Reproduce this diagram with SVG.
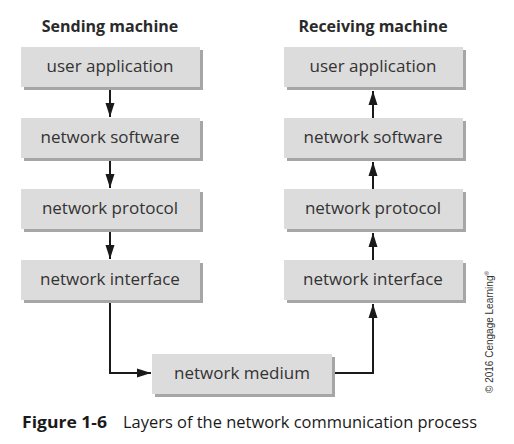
<svg xmlns="http://www.w3.org/2000/svg" width="514" height="444" viewBox="0 0 514 444">
<style>
.shadow{fill:#a6a6a6}
.box{fill:#dcdcdc}
.lbl{font-family:"Open Sans","Liberation Sans",sans-serif;font-size:17px;fill:#333;text-anchor:middle}
.hdr{font-family:"Open Sans","Liberation Sans",sans-serif;font-size:16px;font-weight:bold;fill:#2a2a2a;text-anchor:middle}
.conn{stroke:#1a1a1a;stroke-width:2;fill:none}
</style>
<defs>
<marker id="ahl" markerWidth="14" markerHeight="10" viewBox="0 0 14 10" refX="14" refY="5" orient="auto" markerUnits="userSpaceOnUse">
<path d="M0,0.5 L14,5 L0,9.5 Z" fill="#1a1a1a"/>
</marker>
</defs>
<rect width="514" height="444" fill="#fff"/>
<text class="hdr" x="110" y="32">Sending machine</text>
<text class="hdr" x="373" y="32">Receiving machine</text>

<g id="connectors">
<line class="conn" x1="110" y1="90" x2="110" y2="117" marker-end="url(#ahl)"/>
<line class="conn" x1="110" y1="161" x2="110" y2="188" marker-end="url(#ahl)"/>
<line class="conn" x1="110" y1="232" x2="110" y2="259" marker-end="url(#ahl)"/>
<polyline class="conn" points="110,303 110,373 151,373" marker-end="url(#ahl)"/>
<line class="conn" x1="373" y1="118" x2="373" y2="91" marker-end="url(#ahl)"/>
<line class="conn" x1="373" y1="189" x2="373" y2="162" marker-end="url(#ahl)"/>
<line class="conn" x1="373" y1="260" x2="373" y2="233" marker-end="url(#ahl)"/>
<polyline class="conn" points="335,373 373,373 373,304" marker-end="url(#ahl)"/>
</g>

<g id="s-app"><rect class="shadow" x="24" y="50" width="179" height="40"/><rect class="box" x="21" y="47" width="179" height="40"/><text class="lbl" x="110" y="72">user application</text></g>
<g id="s-soft"><rect class="shadow" x="24" y="121" width="179" height="40"/><rect class="box" x="21" y="118" width="179" height="40"/><text class="lbl" x="110" y="143">network software</text></g>
<g id="s-proto"><rect class="shadow" x="24" y="192" width="179" height="40"/><rect class="box" x="21" y="189" width="179" height="40"/><text class="lbl" x="110" y="214">network protocol</text></g>
<g id="s-iface"><rect class="shadow" x="24" y="263" width="179" height="40"/><rect class="box" x="21" y="260" width="179" height="40"/><text class="lbl" x="110" y="285">network interface</text></g>

<g id="r-app"><rect class="shadow" x="287" y="50" width="179" height="40"/><rect class="box" x="284" y="47" width="179" height="40"/><text class="lbl" x="373" y="72">user application</text></g>
<g id="r-soft"><rect class="shadow" x="287" y="121" width="179" height="40"/><rect class="box" x="284" y="118" width="179" height="40"/><text class="lbl" x="373" y="143">network software</text></g>
<g id="r-proto"><rect class="shadow" x="287" y="192" width="179" height="40"/><rect class="box" x="284" y="189" width="179" height="40"/><text class="lbl" x="373" y="214">network protocol</text></g>
<g id="r-iface"><rect class="shadow" x="287" y="263" width="179" height="40"/><rect class="box" x="284" y="260" width="179" height="40"/><text class="lbl" x="373" y="285">network interface</text></g>

<g id="medium"><rect class="shadow" x="155" y="357" width="180" height="40"/><rect class="box" x="152" y="354" width="180" height="40"/><text class="lbl" x="242" y="379">network medium</text></g>

<text x="493" y="393" transform="rotate(-90 493 393)" font-family="'Liberation Sans Narrow','Liberation Sans',sans-serif" font-size="10" fill="#333">© 2016 Cengage Learning<tspan font-size="6" dy="-4">®</tspan></text>

<text x="22" y="428" font-family="'Open Sans','Liberation Sans',sans-serif" font-size="16.5" fill="#1a1a1a"><tspan font-weight="bold" textLength="85" lengthAdjust="spacingAndGlyphs">Figure 1-6</tspan><tspan x="123" textLength="354" lengthAdjust="spacingAndGlyphs">Layers of the network communication process</tspan></text>
</svg>
